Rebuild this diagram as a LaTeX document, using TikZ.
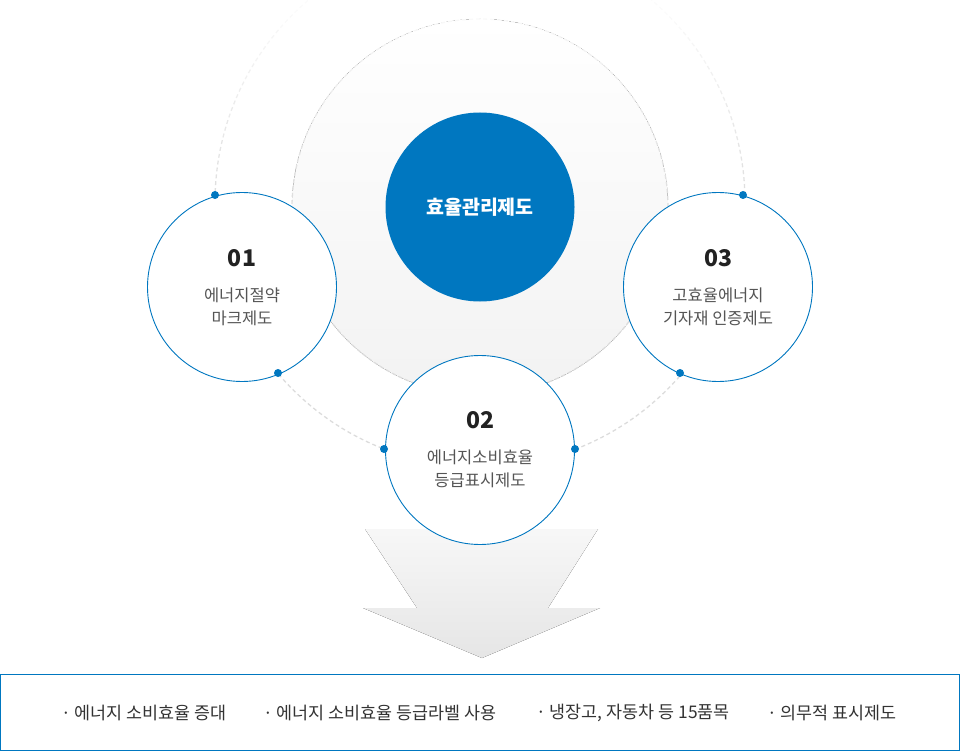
\documentclass[tikz,border=0pt]{standalone}
\usepackage{fontspec}
\setmainfont{Noto Sans CJK KR}
\definecolor{kblue}{HTML}{0077C0}
\definecolor{dashgray}{HTML}{DCDCDC}
\definecolor{txtgray}{HTML}{555555}
\definecolor{txtdark}{HTML}{333333}
\definecolor{numdark}{HTML}{222222}
\tikzset{
  dashline/.style={line width=1.3pt, dash pattern=on 4pt off 3pt},
  smallc/.style={circle, draw=kblue, line width=0.9pt, fill=white, minimum size=189pt, inner sep=0pt},
  dotmark/.style={circle, fill=kblue, inner sep=0pt, minimum size=8pt},
  numtxt/.style={font=\fontsize{23}{26}\selectfont\bfseries, text=numdark, inner sep=0pt},
  desctxt/.style={font=\fontsize{16.5}{23}\selectfont, text=txtgray, align=center, inner sep=0pt},
  itemtxt/.style={font=\fontsize{17.4}{20}\selectfont, text=txtdark, anchor=west, inner sep=0pt}
}
\begin{document}
\begin{tikzpicture}[x=1pt,y=-1pt]
\useasboundingbox (0,0) rectangle (960,751);
\begin{scope}
\clip (0,0) rectangle (960,751);
% big light circle
\fill[top color=white, bottom color=black!5] (480,207) circle[radius=188pt];
\foreach \i in {0,...,55}{
  \pgfmathsetmacro\aa{\i*6.4286}
  \pgfmathsetmacro\yy{207-188*sin(\aa+3.2)}
  \pgfmathsetmacro\pp{min(100,max(10,10+0.4286*\yy))}
  \draw[dashline, draw=dashgray!\pp!white] (480,207) ++(\aa:188pt) arc[start angle=\aa, delta angle=6.4286, radius=188pt];
}
% outer dashed circle
\foreach \i in {0,...,79}{
  \pgfmathsetmacro\aa{\i*4.5}
  \pgfmathsetmacro\yy{202-265*sin(\aa+2.25)}
  \pgfmathsetmacro\pp{min(100,max(8,8+0.438*\yy))}
  \draw[dashline, draw=dashgray!\pp!white] (480,202) ++(\aa:265pt) arc[start angle=\aa, delta angle=4.5, radius=265pt];
}
\end{scope}
% arrow
\fill[top color=black!3, bottom color=black!10]
  (365,529) -- (598,529) -- (548,608) -- (600,608) -- (482,658) -- (363,608) -- (417,608) -- cycle;
% center
\node[circle, fill=kblue, minimum size=189pt, inner sep=0pt, text=white,
      font=\fontsize{19.5}{22}\selectfont\bfseries] (center) at (480,207) {효율관리제도};
% small circles
\node[smallc] (c1) at (242,287) {};
\node[smallc] (c3) at (718,287) {};
\node[smallc] (c2) at (480,450) {};
% dots
\node[dotmark] (d1a) at (215,195) {};
\node[dotmark] (d1b) at (278,373) {};
\node[dotmark] (d3a) at (743,195) {};
\node[dotmark] (d3b) at (680,373) {};
\node[dotmark] (d2a) at (384,449) {};
\node[dotmark] (d2b) at (575,449) {};
% texts
\node[numtxt] (n1) at (242,258) {01};
\node[desctxt] (t1) at (242,307) {에너지절약\\마크제도};
\node[numtxt] (n3) at (718,258) {03};
\node[desctxt] (t3) at (718,307) {고효율에너지\\기자재 인증제도};
\node[numtxt] (n2) at (480,420) {02};
\node[desctxt] (t2) at (480,469) {에너지소비효율\\등급표시제도};
% bottom box
\draw[kblue, line width=1pt] (0.5,674) rectangle (959.5,750);
\node[itemtxt] (i1) at (61,713) {· 에너지 소비효율 증대};
\node[itemtxt] (i2) at (263,713) {· 에너지 소비효율 등급라벨 사용};
\node[itemtxt] (i3) at (536,713) {· 냉장고, 자동차 등 15품목};
\node[itemtxt] (i4) at (767,713) {· 의무적 표시제도};
\end{tikzpicture}
\end{document}
